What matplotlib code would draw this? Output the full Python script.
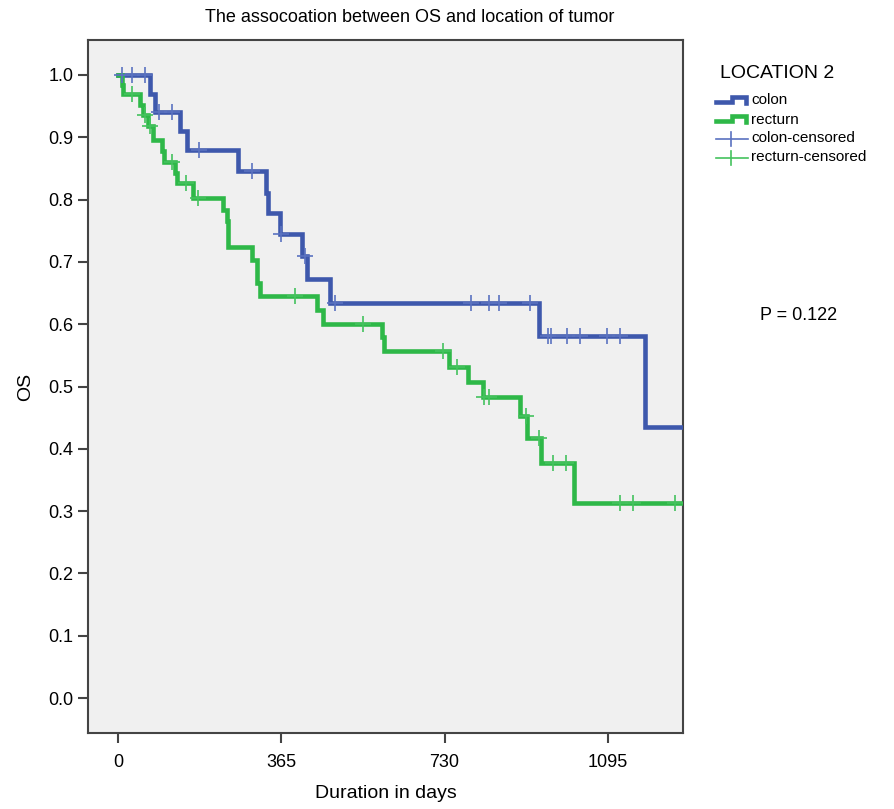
import numpy as np
import matplotlib
matplotlib.use("Agg")
import matplotlib.pyplot as plt
from matplotlib.lines import Line2D

plt.rcParams['font.family'] = ['Liberation Sans', 'DejaVu Sans']

# Kaplan-Meier steps (days, survival after the step)
colon_days = [72, 83, 139, 154, 269, 331, 336, 362, 411, 422, 474, 941, 1178]
colon_surv = [0.970, 0.940, 0.910, 0.880, 0.845, 0.811, 0.778, 0.745, 0.710,
              0.673, 0.634, 0.581, 0.435]
colon_cens = [10, 31, 60, 92, 120, 181, 299, 364, 419, 485, 789, 829, 851, 921,
              961, 969, 1003, 1032, 1092, 1122]

rect_days = [8, 12, 49, 57, 66, 78, 98, 103, 127, 132, 167, 235, 243, 246, 299,
             311, 317, 444, 459, 590, 594, 739, 783, 816, 898, 914, 945, 1019]
rect_surv = [0.984, 0.969, 0.952, 0.935, 0.918, 0.896, 0.878, 0.861, 0.843,
             0.826, 0.802, 0.783, 0.765, 0.724, 0.703, 0.666, 0.646, 0.623,
             0.600, 0.580, 0.557, 0.532, 0.507, 0.483, 0.452, 0.417, 0.377, 0.313]
rect_cens = [31, 60, 72, 120, 152, 179, 396, 548, 727, 758, 819, 829, 912, 942,
             972, 1001, 1122, 1152, 1245]

last_day = 1290
xticks = [0, 365, 730, 1095]
yticks = np.round(np.arange(0, 1.01, 0.1), 1)

blue = '#3E58AC'
green = '#2EB848'
blue_c = '#5A72C0'
green_c = '#44C25E'


def surv_at(t, days, surv):
    s = 1.0
    for d, v in zip(days, surv):
        if d <= t:
            s = v
    return s


fig = plt.figure(figsize=(8.94, 8.09), dpi=100)
ax = fig.add_axes([88/894, 1-733/809, (683-88)/894, (733-40)/809])
ax.set_facecolor('#F0F0F0')

for days, surv, cens, col, ccol in [(colon_days, colon_surv, colon_cens, blue, blue_c),
                                    (rect_days, rect_surv, rect_cens, green, green_c)]:
    t = [0] + days + [last_day]
    s = [1.0] + surv + [surv[-1]]
    ax.step(t, s, where='post', color=col, lw=3.3, solid_joinstyle='miter', zorder=3)
    cy = [surv_at(c, days, surv) for c in cens]
    ax.plot(cens, cy, ls='none', marker='+', ms=11, mew=1.2, color=ccol, zorder=4)

ax.set_xlim(-67, 1263)
ax.set_ylim(-0.056, 1.056)
ax.set_xticks(xticks)
ax.set_yticks(yticks)
ax.set_yticklabels(['%.1f' % v for v in yticks])
ax.tick_params(axis='both', labelsize=13, length=7, width=1.5, color='#444444', direction='out')
ax.tick_params(axis='x', pad=8)
for sp in ax.spines.values():
    sp.set_color('#444444')
    sp.set_linewidth(1.5)

ax.set_xlabel('Duration in days', fontsize=14, labelpad=10)
ax.set_ylabel('OS', fontsize=14, labelpad=10)
fig.text(410/894, 1-18/809, 'The assocoation between OS and location of tumor',
         ha='center', va='center', fontsize=13)

# legend drawn by hand, SPSS style
fig.text(720/894, 1-73/809, 'LOCATION 2', ha='left', va='center', fontsize=14)


def fx(px):
    return px/894


def fy(py):
    return 1-py/809


for py, col in [(102, blue), (121, green)]:
    fig.add_artist(Line2D([fx(716), fx(732), fx(732), fx(746), fx(746)],
                          [fy(py), fy(py), fy(py-5), fy(py-5), fy(py+1)],
                          color=col, lw=3.3, solid_joinstyle='miter'))
for py, col in [(139, blue_c), (158, green_c)]:
    fig.add_artist(Line2D([fx(716), fx(748)], [fy(py), fy(py)], color=col, lw=1.2))
    fig.add_artist(Line2D([fx(731), fx(731)], [fy(py-7), fy(py+7)], color=col, lw=1.2))
for py, lab in [(100, 'colon'), (120, 'recturn'), (138, 'colon-censored'), (157, 'recturn-censored')]:
    fig.text(fx(751), fy(py), lab, ha='left', va='center', fontsize=11)

fig.text(fx(760), fy(315), 'P = 0.122', ha='left', va='center', fontsize=13)

fig.savefig('out.png', dpi=100)
